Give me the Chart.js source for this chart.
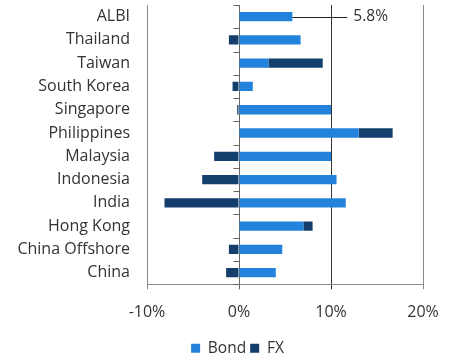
<!DOCTYPE html>
<html>
<head>
<meta charset="utf-8">
<script src="https://cdn.jsdelivr.net/npm/chart.js@4"></script>
<style>
  html, body { margin: 0; padding: 0; background: #fff; }
  #wrap { width: 450px; height: 362px; }
</style>
</head>
<body>
<div id="wrap"><canvas id="grafico"></canvas></div>
<script>
// --- dados ---
const categorias = ["ALBI", "Thailand", "Taiwan", "South Korea", "Singapore", "Philippines",
    "Malaysia", "Indonesia", "India", "Hong Kong", "China Offshore", "China"];
const bond = [5.8, 6.7, 3.2, 1.5, 10.0, 13.0, 10.0, 10.6, 11.6, 7.0, 4.7, 4.0];
const fx = [0, -1.1, 5.9, -0.7, -0.2, 3.7, -2.7, -4.0, -8.1, 1.0, -1.1, -1.4];
const ticksX = [-10, 0, 10, 20];

const FONTE = "'Open Sans', sans-serif";
const COR_TEXTO = "#333";

// rótulo do ALBI (linha + valor)
const rotuloAlbi = {
    id: "rotuloAlbi",
    afterDatasetsDraw(chart) {
        const x = chart.scales.x;
        const y = chart.scales.y;
        const total = bond[0] + Math.max(fx[0], 0);
        const x1 = x.getPixelForValue(total);
        const yc = y.getPixelForValue(0);
        const ctx = chart.ctx;
        ctx.save();
        ctx.strokeStyle = "#222";
        ctx.lineWidth = 1;
        ctx.beginPath();
        ctx.moveTo(x1, Math.round(yc) + 0.5);
        ctx.lineTo(x1 + 55, Math.round(yc) + 0.5);
        ctx.stroke();
        ctx.fillStyle = COR_TEXTO;
        ctx.font = "15.5px " + FONTE;
        ctx.textBaseline = "middle";
        ctx.fillText(total.toFixed(1) + "%", x1 + 61, yc);
        ctx.restore();
    }
};

// marcas das categorias sobre o eixo do zero
const marcasZero = {
    id: "marcasZero",
    afterDatasetsDraw(chart) {
        const x = chart.scales.x;
        const y = chart.scales.y;
        const x0 = Math.round(x.getPixelForValue(0)) + 0.5;
        const passo = Math.abs(y.getPixelForValue(1) - y.getPixelForValue(0));
        const ctx = chart.ctx;
        ctx.save();
        ctx.strokeStyle = "#666";
        ctx.lineWidth = 1;
        ctx.beginPath();
        for (let i = 0; i <= categorias.length; i++) {
            const yy = Math.round(y.getPixelForValue(0) - passo / 2 + i * passo) + 0.5;
            ctx.moveTo(x0 - 6, yy);
            ctx.lineTo(x0, yy);
        }
        ctx.stroke();
        ctx.restore();
    }
};

// legenda um pouco deslocada para a direita, como no original
const ajusteLegenda = {
    id: "ajusteLegenda",
    afterLayout(chart) {
        const lg = chart.legend;
        lg.left += 26; lg.right += 26;
    }
};

new Chart(document.getElementById("grafico"), {
    type: "bar",
    data: {
        labels: categorias,
        datasets: [
            { label: "Bond", data: bond, backgroundColor: "#2383dc", barPercentage: 0.4, categoryPercentage: 1 },
            { label: "FX", data: fx, backgroundColor: "#143f6c", barPercentage: 0.4, categoryPercentage: 1 }
        ]
    },
    options: {
        indexAxis: "y",
        responsive: true,
        maintainAspectRatio: false,
        animation: false,
        layout: { padding: { top: 5, right: 27, left: 0, bottom: -4 } },
        plugins: {
            tooltip: { enabled: false },
            legend: {
                position: "bottom",
                labels: {
                    boxWidth: 9, boxHeight: 9, padding: 4,
                    color: COR_TEXTO,
                    font: { family: FONTE, size: 15.5 }
                }
            }
        },
        scales: {
            x: {
                stacked: true,
                min: -10, max: 20,
                afterBuildTicks: (s) => { s.ticks = ticksX.map(v => ({ value: v })); },
                afterFit: (s) => { s.paddingRight = 0; },
                ticks: {
                    color: COR_TEXTO,
                    font: { family: FONTE, size: 16 },
                    padding: 14,
                    callback: (v) => v + "%"
                },
                grid: {
                    color: (c) => c.tick && c.tick.value === 10 ? "#333" : (c.tick && c.tick.value === 0 ? "#666" : "#888"),
                    tickLength: 5
                },
                border: { color: "#888" }
            },
            y: {
                stacked: true,
                afterFit: (s) => { s.width = 147; s.paddingTop = 0; s.paddingBottom = 0; },
                ticks: {
                    autoSkip: false,
                    color: COR_TEXTO,
                    font: { family: FONTE, size: 16 },
                    padding: 17
                },
                grid: { display: false, drawTicks: false },
                border: { display: false }
            }
        }
    },
    plugins: [rotuloAlbi, marcasZero, ajusteLegenda]
});
</script>
</body>
</html>
